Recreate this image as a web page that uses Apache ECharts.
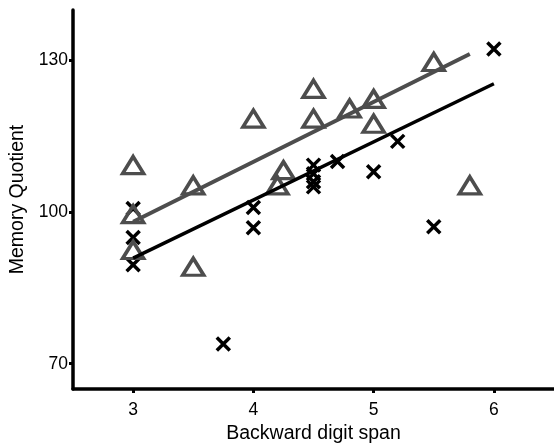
<!DOCTYPE html>
<html lang="en">
<head>
    <meta charset="UTF-8">
    <title>Memory Quotient</title>
    <script src="https://cdn.jsdelivr.net/npm/echarts@6/dist/echarts.min.js"></script>
    <style>
        html, body { margin: 0; padding: 0; background: #fff; }
    </style>
</head>
<body>
    <div id="main" style="width: 554px;height:444px;"></div>
</body>

<script>
    // triangles (grey group)
    var triX = [3, 3, 3, 3.5, 3.5, 4, 4.25, 4.2, 4.5, 4.5, 4.8, 5, 5, 5.5, 5.8];
    var triY = [109.3, 99.6, 92.5, 105.3, 89.2, 118.5, 108.3, 105.3, 124.4, 118.5, 120.5, 122.4, 117.5, 129.7, 105.3];
    // crosses (black group)
    var crossX = [3, 3, 3, 3.75, 4, 4, 4.5, 4.5, 4.5, 4.5, 4.7, 5, 5.2, 5.5, 6];
    var crossY = [100.7, 95, 89.6, 73.9, 100.9, 96.9, 109.3, 107.6, 106, 105, 110, 108, 114, 97.1, 132.3];
    // fitted lines, end points
    var triFitX = [3, 5.8];
    var triFitY = [98.1, 131.3];
    var crossFitX = [3, 6];
    var crossFitY = [90.9, 125.4];
    // ticks
    var xTicks = [3, 4, 5, 6];
    var yTicks = [70, 100, 130];

    function pairs(xs, ys) {
        return xs.map(function (x, i) { return [x, ys[i]]; });
    }

    var grey = '#4d4d4d';
    var font = 'Liberation Sans, Arial, sans-serif';

    var myChart = echarts.init(document.getElementById('main'));
    var option = {
        animation: false,
        grid: { left: 73, right: 0, top: 10, bottom: 55, containLabel: false, outerBoundsMode: 'none' },
        xAxis: {
            type: 'value',
            min: 2.5,
            max: 6.5,
            name: 'Backward digit span',
            nameLocation: 'middle',
            nameGap: 31,
            nameTextStyle: { fontSize: 19.5, color: '#000', fontFamily: font },
            splitLine: { show: false },
            axisLine: { show: true, lineStyle: { color: '#000', width: 3.5 } },
            // inside ticks did not render here, so short outside ones
            axisTick: { show: true, inside: false, length: 4, lineStyle: { width: 3, color: '#000' }, customValues: xTicks },
            axisLabel: { fontSize: 17.5, color: '#000', fontFamily: font, margin: 12, customValues: xTicks }
        },
        yAxis: {
            type: 'value',
            min: 65,
            max: 140,
            name: 'Memory Quotient',
            nameLocation: 'middle',
            nameGap: 42,
            nameTextStyle: { fontSize: 19.5, color: '#000', fontFamily: font },
            splitLine: { show: false },
            axisLine: { show: true, lineStyle: { color: '#000', width: 3.5 } },
            axisTick: { show: true, inside: false, length: 4, lineStyle: { width: 3, color: '#000' }, customValues: yTicks },
            axisLabel: { fontSize: 17.5, color: '#000', fontFamily: font, margin: 5, customValues: yTicks }
        },
        series: [
            {
                name: 'crosses',
                type: 'scatter',
                symbol: 'path://M0,0L10,10M10,0L0,10',
                symbolSize: 13,
                itemStyle: { color: 'none', borderColor: '#000', borderWidth: 3.5, opacity: 1 },
                data: pairs(crossX, crossY),
                z: 2
            },
            {
                name: 'triangles',
                type: 'scatter',
                symbol: 'triangle',
                symbolSize: [21, 17],
                itemStyle: { color: 'none', borderColor: grey, borderWidth: 3.5, opacity: 1 },
                data: pairs(triX, triY),
                z: 3
            },
            {
                name: 'crossFit',
                type: 'line',
                symbol: 'none',
                lineStyle: { color: '#000', width: 3.5 },
                data: pairs(crossFitX, crossFitY),
                z: 4
            },
            {
                name: 'triFit',
                type: 'line',
                symbol: 'none',
                lineStyle: { color: grey, width: 4 },
                data: pairs(triFitX, triFitY),
                z: 4
            }
        ]
    };
    myChart.setOption(option);
</script>
</html>
